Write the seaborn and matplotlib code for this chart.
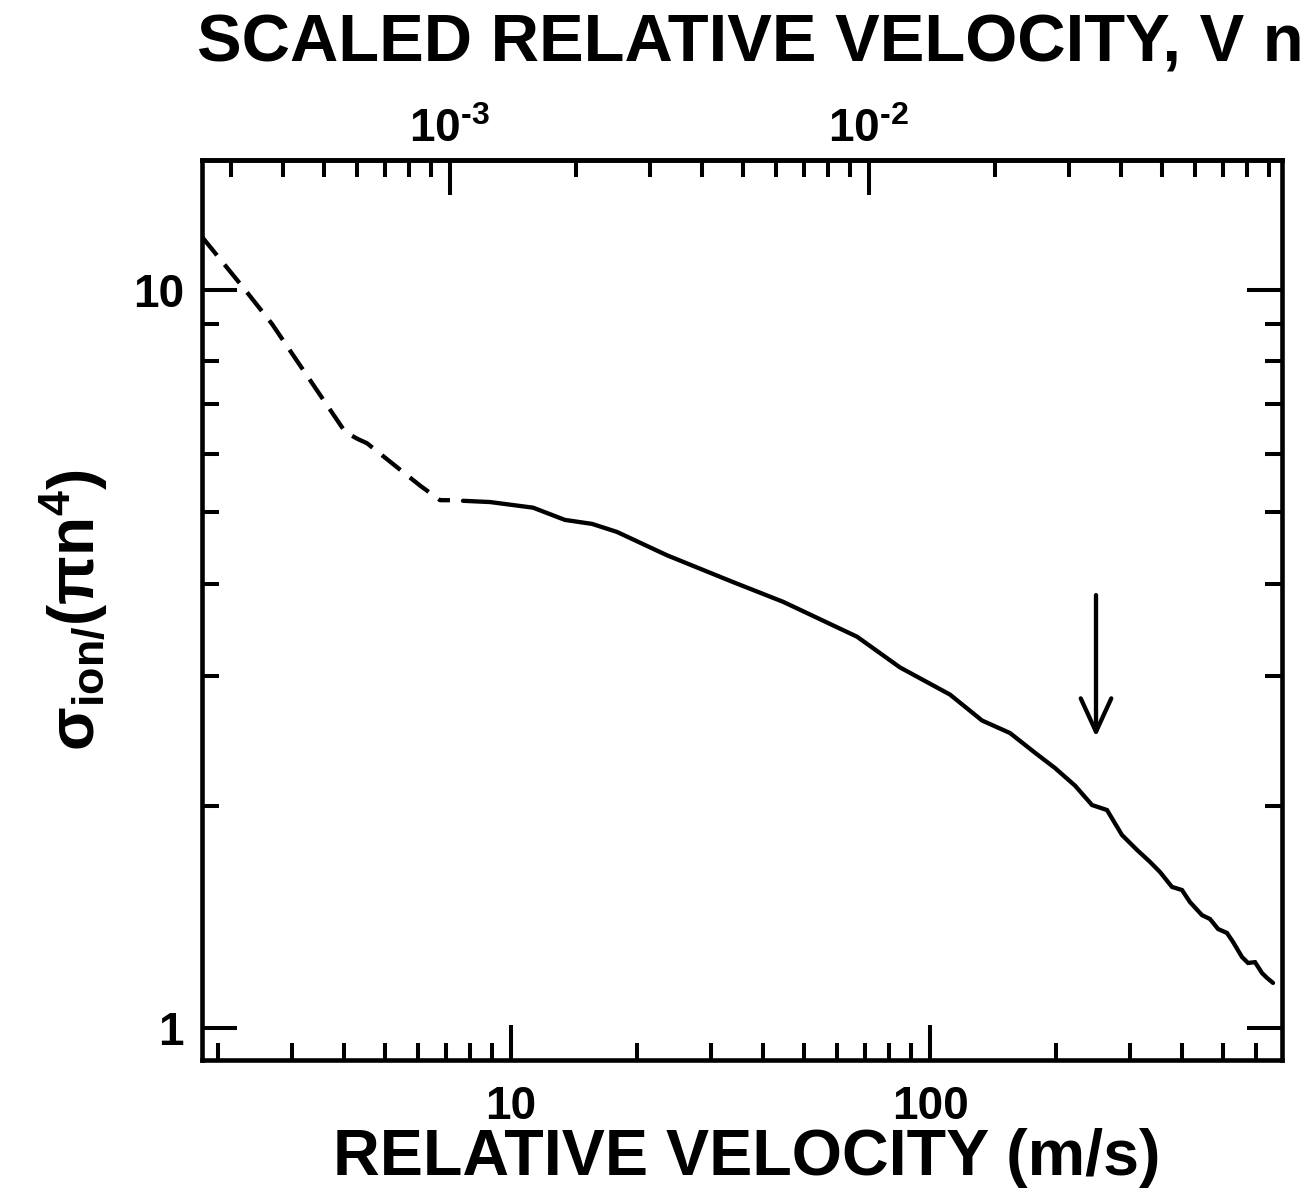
import numpy as np
import pandas as pd
import matplotlib
matplotlib.use("Agg")
import matplotlib.pyplot as plt
from matplotlib.ticker import LogLocator, FixedLocator, FixedFormatter, NullFormatter
import seaborn as sns

# ---------------- data ----------------
# dashed (low-velocity) part
v_dash = [1.83, 2.32, 2.69, 4.02, 4.31, 4.53, 6.07, 6.77, 7.15]
s_dash = [11.80, 10.0, 8.99, 6.42, 6.28, 6.20, 5.43, 5.19, 5.19]

# solid part
v_solid = [7.68, 8.91, 11.29, 13.45, 15.61, 17.91, 23.57, 33.87, 44.6, 66.96,
           84.8, 111.6, 133.1, 155.2, 178.1, 198.8, 221.9, 243.6, 264.5, 287.2,
           311.9, 335.0, 353.9, 378.0, 399.4, 417.4, 445.9, 465.9, 486.9, 511.5,
           528.7, 555.4, 574.1, 596.7, 620.1, 637.4, 658.7]
s_solid = [5.18, 5.16, 5.07, 4.88, 4.82, 4.70, 4.37, 4.02, 3.78, 3.39,
           3.08, 2.83, 2.61, 2.51, 2.36, 2.25, 2.13, 2.005, 1.974, 1.826,
           1.743, 1.679, 1.627, 1.553, 1.538, 1.481, 1.422, 1.405, 1.362, 1.345,
           1.308, 1.248, 1.225, 1.228, 1.187, 1.169, 1.151]

# arrow marker
arrow_v = 249.0
arrow_s_start = 3.86
arrow_s_end = 2.48

# scale factor for top axis (scaled velocity = V * K)
K = 1.40e-4

x_major = [10, 100]
x_major_labels = ["10", "100"]
y_major = [1, 10]
y_major_labels = ["1", "10"]
top_major = [1e-3, 1e-2]
top_major_labels = [r"$\mathdefault{10^{\text{-3}}}$", r"$\mathdefault{10^{\text{-2}}}$"]

xlim = (1.83, 692)
ylim = (0.905, 15.0)

# ---------------- style ----------------
sns.set_theme(style="ticks")
FONT = "Liberation Sans"
plt.rcParams["font.family"] = [FONT, "DejaVu Sans"]
plt.rcParams["font.weight"] = "bold"
plt.rcParams["mathtext.fontset"] = "custom"
plt.rcParams["mathtext.rm"] = "Liberation Sans:bold"
plt.rcParams["mathtext.it"] = "Liberation Sans:bold"
plt.rcParams["mathtext.bf"] = "Liberation Sans:bold"
plt.rcParams["mathtext.sf"] = "Liberation Sans:bold"
plt.rcParams["mathtext.default"] = "regular"
plt.rcParams["axes.unicode_minus"] = False
for key in ["text.color", "axes.labelcolor", "xtick.color", "ytick.color",
            "axes.edgecolor", "xtick.labelcolor", "ytick.labelcolor"]:
    plt.rcParams[key] = "black"

W, H = 1307, 1199
fig = plt.figure(figsize=(W / 100, H / 100), dpi=100)
fig.patch.set_facecolor("white")
L, R, T, B = 202, 1282, 160, 1060
ax = fig.add_axes([L / W, 1 - B / H, (R - L) / W, (B - T) / H])
ax.set_facecolor("white")

df_dash = pd.DataFrame({"v": v_dash, "s": s_dash})
df_solid = pd.DataFrame({"v": v_solid, "s": s_solid})

LW = 3.1
sns.lineplot(data=df_solid, x="v", y="s", ax=ax, color="black", lw=LW,
             sort=False, estimator=None)
sns.lineplot(data=df_dash, x="v", y="s", ax=ax, color="black", lw=LW,
             sort=False, estimator=None)
ax.lines[-1].set_dashes([5.5, 2.8])
for ln in ax.lines:
    ln.set_solid_joinstyle("miter")

ax.set_xscale("log")
ax.set_yscale("log")
ax.set_xlim(*xlim)
ax.set_ylim(*ylim)

ax.annotate("", xy=(arrow_v, arrow_s_end), xytext=(arrow_v, arrow_s_start),
            arrowprops=dict(arrowstyle="->,head_length=1.2,head_width=0.55",
                            lw=LW, color="black", mutation_scale=20,
                            shrinkA=0, shrinkB=0))

# ticks
ax.xaxis.set_major_locator(FixedLocator(x_major))
ax.xaxis.set_major_formatter(FixedFormatter(x_major_labels))
ax.xaxis.set_minor_locator(LogLocator(base=10, subs=np.arange(2, 10)))
ax.xaxis.set_minor_formatter(NullFormatter())
ax.yaxis.set_major_locator(FixedLocator(y_major))
ax.yaxis.set_major_formatter(FixedFormatter(y_major_labels))
ax.yaxis.set_minor_locator(LogLocator(base=10, subs=np.arange(2, 10)))
ax.yaxis.set_minor_formatter(NullFormatter())

ax.tick_params(which="both", direction="in", width=2.9, color="black",
               left=True, right=True, bottom=True, top=False)
ax.tick_params(which="major", length=25)
ax.tick_params(which="minor", length=12)
ax.tick_params(axis="x", which="major", labelsize=33, pad=18)
ax.tick_params(axis="y", which="major", labelsize=33, pad=13)
for lab in ax.get_xticklabels() + ax.get_yticklabels():
    lab.set_fontweight("bold")

for sp in ax.spines.values():
    sp.set_linewidth(3.3)
    sp.set_color("black")
    sp.set_visible(True)

# top secondary axis
sec = ax.secondary_xaxis("top", functions=(lambda v: v * K, lambda s: s / K))
sec.xaxis.set_major_locator(FixedLocator(top_major))
sec.xaxis.set_major_formatter(FixedFormatter(top_major_labels))
sec.xaxis.set_minor_locator(LogLocator(base=10, subs=np.arange(2, 10)))
sec.xaxis.set_minor_formatter(NullFormatter())
sec.tick_params(which="both", direction="in", width=2.9, color="black")
sec.tick_params(which="major", length=25, labelsize=33, pad=6)
sec.tick_params(which="minor", length=12)
sec.spines["top"].set_linewidth(3.3)
for lab in sec.get_xticklabels():
    lab.set_fontweight("bold")

# labels
ax.set_xlabel("RELATIVE VELOCITY (m/s)", fontsize=46.5, fontweight="bold")
ax.xaxis.set_label_coords(0.504, -0.075)
ax.xaxis.label.set_va("top")
ax.set_ylabel(r"$\sigma_{ion/}(\pi n^{4})$", fontsize=46, fontweight="bold")
ax.yaxis.set_label_coords(-0.085, 0.5)

fig.text(197 / W, 1 - 62 / H, "SCALED RELATIVE VELOCITY, V n",
         fontsize=48.2, fontweight="bold", ha="left", va="baseline")

fig.savefig("out.png", dpi=100, facecolor="white")
